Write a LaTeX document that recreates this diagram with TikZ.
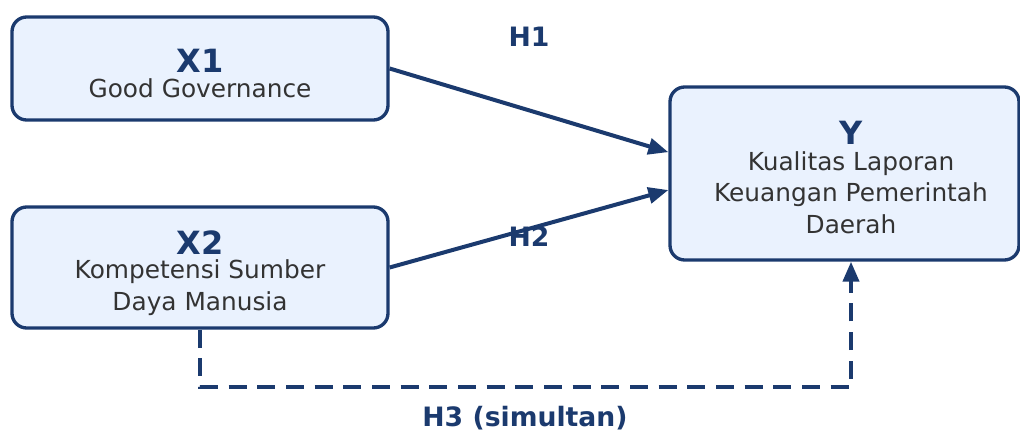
\documentclass[tikz,border=0pt]{standalone}
\usepackage{fontspec}
\setmainfont{DejaVu Sans}
\usetikzlibrary{arrows.meta}
\definecolor{navy}{HTML}{1B3A6E}
\definecolor{boxfill}{HTML}{EAF2FE}
\definecolor{txtgray}{HTML}{333333}
\begin{document}
\begin{tikzpicture}[x=0.75pt,y=0.75pt,
  varbox/.style={draw=navy,fill=boxfill,line width=2.5pt,rounded corners=11pt,inner sep=0pt},
  title/.style={anchor=base,text=navy,font=\fontsize{24}{28}\selectfont\bfseries},
  desc/.style={anchor=base,text=txtgray,font=\fontsize{18.6}{22}\selectfont},
  hyp/.style={anchor=base,text=navy,font=\fontsize{20}{24}\selectfont\bfseries},
  link/.style={draw=navy,line width=3pt,-{Triangle[length=15pt,width=12pt]}}]
\useasboundingbox (0,0) rectangle (1020,432);
\node[varbox,minimum width=282pt,minimum height=77.25pt] (x1) at (200,363.5) {};
\node[varbox,minimum width=282pt,minimum height=90.75pt] (x2) at (200,164.5) {};
\node[varbox,minimum width=261.75pt,minimum height=129.75pt] (y) at (844.5,258.5) {};
\node[title] (x1title) at (200,359) {X1};
\node[desc] (x1desc) at (200,334) {Good Governance};
\node[title] (x2title) at (200,177) {X2};
\node[desc] (x2desca) at (200,153) {Kompetensi Sumber};
\node[desc] (x2descb) at (200,122) {Daya Manusia};
\node[title] (ytitle) at (851,287) {Y};
\node[desc] (ydesca) at (851,261) {Kualitas Laporan};
\node[desc] (ydescb) at (851,230) {Keuangan Pemerintah};
\node[desc] (ydescc) at (851,198) {Daerah};
\draw[link] (x1.east) -- ([yshift=16pt]y.west);
\draw[link] (x2.east) -- ([yshift=-12.4pt]y.west);
\node[hyp] (h1) at (529,385) {H1};
\node[hyp] (h2) at (529,185) {H2};
\coordinate (h3corner) at (851,45);
\draw[link,dash pattern=on 13.5pt off 8pt] (x2.south) |- (h3corner) -- (h3corner |- y.south);
\node[hyp] (h3) at (525,6) {H3 (simultan)};
\end{tikzpicture}
\end{document}
